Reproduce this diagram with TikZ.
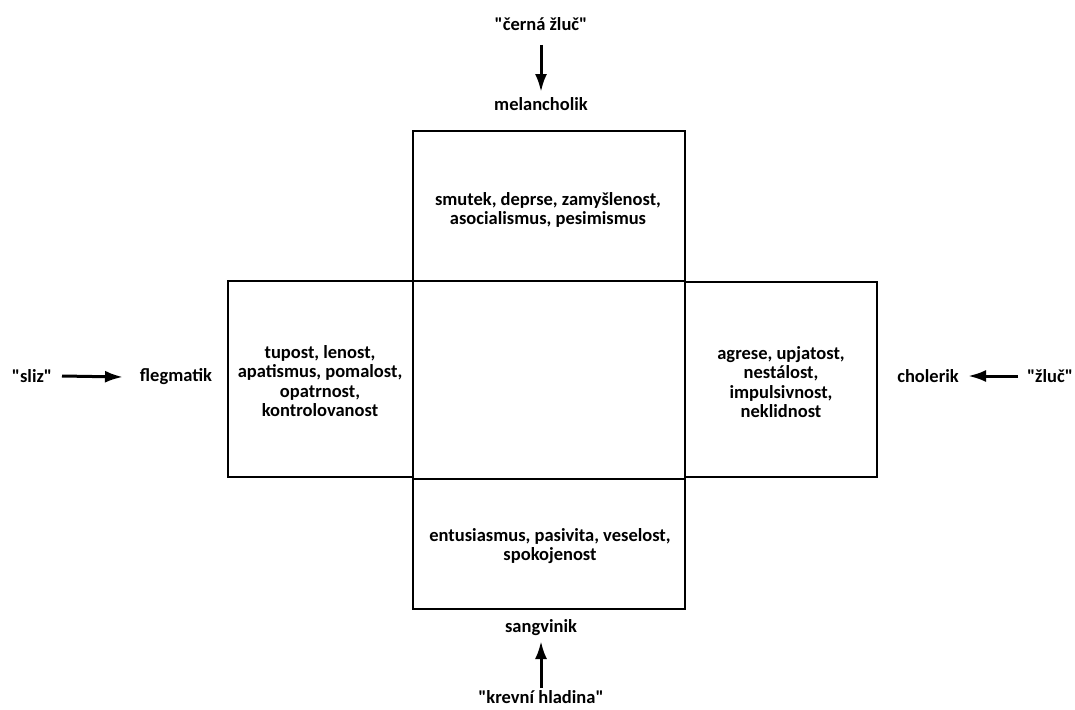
\documentclass[tikz,border=0pt]{standalone}
\usepackage{fontspec}
\newfontfamily\cfont{Carlito}
\usetikzlibrary{arrows.meta,calc}
\begin{document}
\begin{tikzpicture}[x=1pt,y=-1pt,
  box/.style={draw=black,line width=2pt},
  lbl/.style={font=\cfont\bfseries\fontsize{18.5}{19.5}\selectfont,text=black,inner sep=0pt},
  txt/.style={lbl,align=center},
  arr/.style={line width=3pt,-{Latex[length=18pt,width=12pt]}}]
\useasboundingbox (0,0) rectangle (1075,709);
% boxes
\draw[box] (413,131) rectangle (685,281);
\draw[box] (413,281) rectangle (685,479);
\draw[box] (228,281) rectangle (413,477);
\draw[box] (685,282) rectangle (877,477);
\draw[box] (413,479) rectangle (685,609);
% box texts
\node[txt] (ttop) at (548,210) {smutek, deprse, zamyšlenost,\\asocialismus, pesimismus};
\node[txt] (tleft) at (320,381) {tupost, lenost,\\apatismus, pomalost,\\opatrnost,\\kontrolovanost};
\node[txt] (tright) at (781,382) {agrese, upjatost,\\nestálost,\\impulsivnost,\\neklidnost};
\node[txt] (tbot) at (550,546) {entusiasmus, pasivita, veselost,\\spokojenost};
% labels
\node[lbl] (cz) at (541,24) {"černá žluč"};
\node[lbl] (mel) at (541,104) {melancholik};
\node[lbl] (sliz) at (32,376) {"sliz"};
\node[lbl] (fleg) at (176,377) {flegmatik};
\node[lbl] (zluc) at (1050,376) {"žluč"};
\node[lbl] (chol) at (928,376) {cholerik};
\node[lbl] (sang) at (541,628) {sangvinik};
\node[lbl] (krev) at (541,697) {"krevní hladina"};
% arrows
\draw[arr] ($(cz.center)+(0,21)$) -- ($(mel.center)+(0,-12)$);
\draw[arr] ($(krev.center)+(0,-9)$) -- ($(sang.center)+(0,13)$);
\draw[arr] ($(sliz.center)+(30,0)$) -- ($(fleg.center)+(-53,0)$);
\draw[arr] ($(zluc.center)+(-32,0)$) -- ($(chol.center)+(40,0)$);
\end{tikzpicture}
\end{document}
